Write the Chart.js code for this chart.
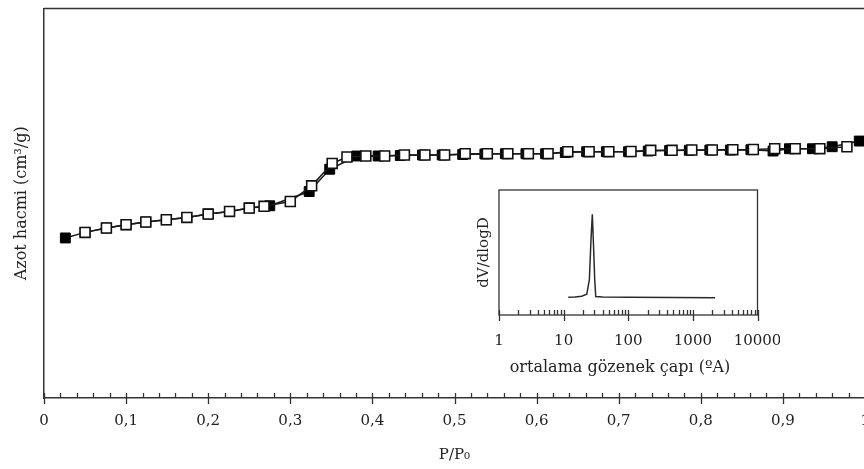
<!DOCTYPE html>
<html>
<head>
<meta charset="utf-8">
<script src="https://cdn.jsdelivr.net/npm/chart.js@4.4.1/dist/chart.umd.min.js"></script>
<style>
  html, body { margin: 0; padding: 0; background: #fff; overflow: hidden; width: 864px; height: 469px; }
  #wrap { position: relative; width: 864px; height: 469px; overflow: hidden; }
  #main { position: absolute; left: 0; top: 0; }
  #inset { position: absolute; left: 460px; top: 180px; }
</style>
</head>
<body>
<div id="wrap">
  <canvas id="main" width="880" height="469"></canvas>
  <canvas id="inset" width="320" height="200"></canvas>
</div>
<script>
// ---- Main isotherm data (P/P0, relative N2 volume; y axis has no printed scale) ----
const adsP = [0.026,0.050,0.076,0.100,0.124,0.149,0.174,0.200,0.226,0.250,0.275,0.323,0.348,0.381,0.407,0.434,0.461,0.485,0.510,0.537,0.562,0.587,0.611,0.635,0.661,0.685,0.712,0.736,0.762,0.786,0.811,0.836,0.861,0.888,0.908,0.936,0.960,0.993];
const adsV = [160.7,166.3,170.7,174,176.7,179,181.3,184.7,187.3,190.7,193,207.3,229.7,243,243,243.5,244,244,244.5,245,245.3,245.3,245.3,246.5,247.3,247.3,247.3,248,248.5,248.7,249,249,249.3,248,250.3,250.3,252.3,258];
const desP = [0.050,0.076,0.100,0.124,0.149,0.174,0.200,0.226,0.250,0.268,0.300,0.326,0.351,0.369,0.392,0.415,0.439,0.464,0.488,0.513,0.540,0.565,0.590,0.614,0.638,0.664,0.688,0.715,0.739,0.765,0.789,0.814,0.839,0.864,0.890,0.915,0.945,0.978];
const desV = [166.3,170.7,174,176.7,179,181.3,184.7,187.3,190.7,192.5,197.3,213,235.5,242,243,243,244,244,244,245.3,245.3,245.3,245.3,245.3,247.3,247.3,247.3,247.5,248.7,248.7,249,249,249.3,249.5,250.3,250.3,250.3,252.3];
const xTickValues = [0,0.1,0.2,0.3,0.4,0.5,0.6,0.7,0.8,0.9,1];
const xTickLabels = ['0','0,1','0,2','0,3','0,4','0,5','0,6','0,7','0,8','0,9','1'];

// ---- Inset pore size distribution ----
const poreD = [11.8,15,19,22.8,25,26.5,27.8,29,30.3,31.4,40,100,500,2200];
const dVdlogD = [17.7,18,18.8,20.7,35,75,100.7,70,35,18.5,18,17.8,17.5,17.3];
const insetTickValues = [1,10,100,1000,10000];
const insetTickLabels = ['1','10','100','1000','10000'];
const insetTitle = 'ortalama gözenek çapı (ºA)';

const SERIF = "'DejaVu Serif', 'Liberation Serif', serif";
Chart.defaults.font.family = SERIF;
Chart.defaults.color = '#222';
Chart.defaults.animation = false;

const AX = '#333';

const mainFrame = {
  id: 'mainFrame',
  afterDraw(chart) {
    const {ctx, chartArea: a, scales: {x}} = chart;
    ctx.save();
    ctx.strokeStyle = AX;
    ctx.lineWidth = 1.5;
    ctx.beginPath();
    ctx.moveTo(a.left, a.top);
    ctx.lineTo(a.right, a.top);
    ctx.lineTo(a.right, a.bottom);
    ctx.stroke();
    ctx.lineWidth = 1.3;
    ctx.beginPath();
    for (let i = 0; i <= 50; i++) {
      const px = Math.round(x.getPixelForValue(i / 50)) + 0.5;
      const major = i % 5 === 0;
      ctx.moveTo(px, a.bottom - 5);
      ctx.lineTo(px, a.bottom + (major ? 6 : 0));
    }
    ctx.stroke();
    ctx.restore();
  }
};

new Chart(document.getElementById('main'), {
  type: 'line',
  data: {
    datasets: [
      {
        label: 'Desorpsiyon',
        data: desP.map((p, i) => ({x: p, y: desV[i]})),
        borderColor: '#1a1a1a',
        borderWidth: 1.5,
        pointStyle: 'rect',
        pointRadius: 7,
        pointBackgroundColor: '#fff',
        pointBorderColor: '#111',
        pointBorderWidth: 1.6,
        tension: 0
      },
      {
        label: 'Adsorpsiyon',
        data: adsP.map((p, i) => ({x: p, y: adsV[i]})),
        borderColor: '#1a1a1a',
        borderWidth: 1.5,
        pointStyle: 'rect',
        pointRadius: 7,
        pointBackgroundColor: '#000',
        pointBorderColor: '#000',
        pointBorderWidth: 1,
        tension: 0
      }
    ]
  },
  options: {
    responsive: false,
    devicePixelRatio: 1,
    layout: {padding: {top: 7, right: 15, left: 0, bottom: 0}},
    plugins: {legend: {display: false}, tooltip: {enabled: false}},
    scales: {
      x: {
        type: 'linear', min: 0, max: 1,
        grid: {display: false, drawTicks: false},
        border: {display: true, color: AX, width: 1.5},
        afterBuildTicks: s => { s.ticks = xTickValues.map(v => ({value: v})); },
        afterFit: s => { s.height = 71; s.paddingLeft = 0; s.paddingRight = 0; },
        ticks: {
          autoSkip: false, maxRotation: 0, padding: 14,
          font: {size: 15}, color: '#222',
          callback: (v, i) => xTickLabels[i]
        },
        title: {display: true, text: 'P/P\u2080', font: {size: 15}, color: '#222', padding: {top: 0, bottom: 5}}
      },
      y: {
        type: 'linear', min: 0, max: 391,
        grid: {display: false, drawTicks: false},
        border: {display: true, color: AX, width: 1.5},
        ticks: {display: false},
        afterFit: s => { s.width = 44; s.paddingTop = 0; s.paddingBottom = 0; },
        title: {display: true, text: 'Azot hacmi (cm\u00B3/g)', font: {size: 16}, color: '#222', padding: {top: 12, bottom: 0}}
      }
    }
  },
  plugins: [mainFrame]
});

const insetFrame = {
  id: 'insetFrame',
  afterDraw(chart) {
    const {ctx, chartArea: a, scales: {x}} = chart;
    ctx.save();
    ctx.strokeStyle = AX;
    ctx.lineWidth = 1.3;
    ctx.strokeRect(a.left, a.top, a.right - a.left, a.bottom - a.top);
    ctx.beginPath();
    for (let e = 0; e < 4; e++) {
      for (let m = 1; m <= 9; m++) {
        const v = m * Math.pow(10, e);
        const px = Math.round(x.getPixelForValue(v)) + 0.5;
        ctx.moveTo(px, a.bottom - 5);
        ctx.lineTo(px, a.bottom + (m === 1 ? 6 : 0));
      }
    }
    const pe = Math.round(x.getPixelForValue(10000)) + 0.5;
    ctx.moveTo(pe, a.bottom - 5);
    ctx.lineTo(pe, a.bottom + 6);
    ctx.stroke();
    // axis title (placed as in the reference, slightly left of centre)
    ctx.fillStyle = '#222';
    ctx.font = '16px ' + SERIF;
    ctx.textAlign = 'center';
    ctx.textBaseline = 'middle';
    ctx.fillText(insetTitle, 160, 188);
    ctx.restore();
  }
};

new Chart(document.getElementById('inset'), {
  type: 'line',
  data: {
    datasets: [{
      data: poreD.map((d, i) => ({x: d, y: dVdlogD[i]})),
      borderColor: '#2a2a2a',
      borderWidth: 1.5,
      pointRadius: 0,
      tension: 0
    }]
  },
  options: {
    responsive: false,
    devicePixelRatio: 1,
    layout: {padding: {top: 10, right: 22.5, left: 0, bottom: 0}},
    plugins: {legend: {display: false}, tooltip: {enabled: false}},
    scales: {
      x: {
        type: 'logarithmic', min: 1, max: 10000,
        grid: {display: false, drawTicks: false},
        border: {display: false},
        afterBuildTicks: s => { s.ticks = insetTickValues.map(v => ({value: v})); },
        afterFit: s => { s.height = 65; s.paddingLeft = 0; s.paddingRight = 0; },
        ticks: {
          autoSkip: false, maxRotation: 0, padding: 17,
          font: {size: 15}, color: '#222',
          callback: (v, i) => insetTickLabels[i]
        },
        title: {display: false}
      },
      y: {
        type: 'linear', min: 0, max: 125,
        grid: {display: false, drawTicks: false},
        border: {display: false},
        ticks: {display: false},
        afterFit: s => { s.width = 39; s.paddingTop = 0; s.paddingBottom = 0; },
        title: {display: true, text: 'dV/dlogD', font: {size: 15}, color: '#222', padding: {top: 15, bottom: 0}}
      }
    }
  },
  plugins: [insetFrame]
});
</script>
</body>
</html>
